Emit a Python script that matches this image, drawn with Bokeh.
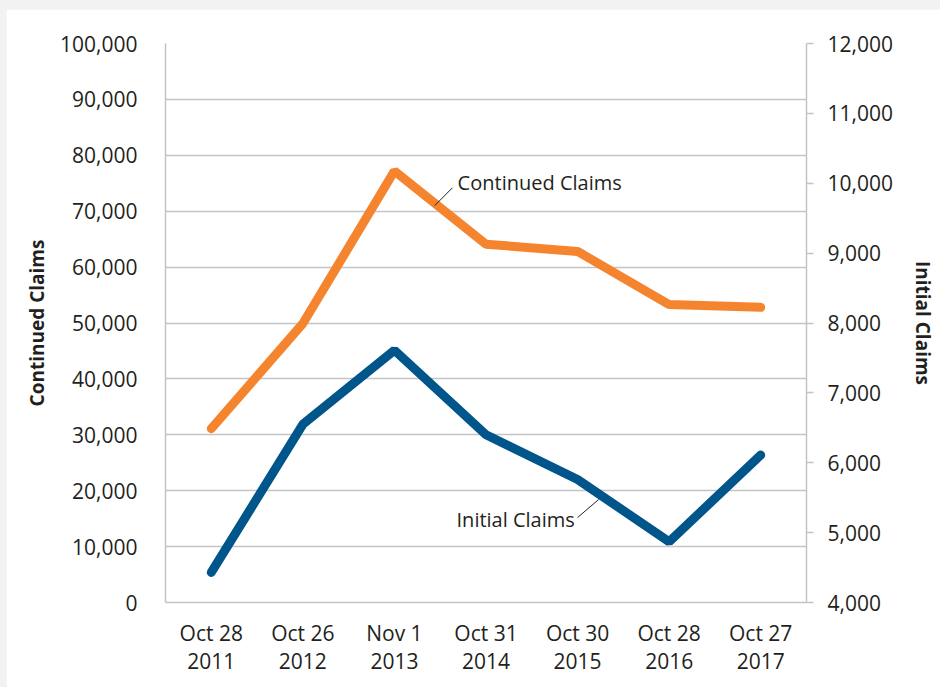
from bokeh.plotting import figure
from bokeh.models import Range1d, LinearAxis, FixedTicker, NumeralTickFormatter, Label
from bokeh.embed import file_html
from bokeh.resources import INLINE

# ---- data ----
dates = ["Oct 28\n2011", "Oct 26\n2012", "Nov 1\n2013", "Oct 31\n2014",
         "Oct 30\n2015", "Oct 28\n2016", "Oct 27\n2017"]
continued_claims = [31100, 49900, 77200, 64100, 62800, 53300, 52800]
initial_claims = [4430, 6550, 7610, 6400, 5760, 4870, 6110]
left_ticks = [0, 10000, 20000, 30000, 40000, 50000, 60000, 70000, 80000, 90000, 100000]
right_ticks = [4000, 5000, 6000, 7000, 8000, 9000, 10000, 11000, 12000]

FONT = "Open Sans"
TXT = "#231f20"
GRID = "#c4c4c4"
ORANGE = "#f5842e"
BLUE = "#00558a"
TICK_SIZE = "21px"

xs = [i + 0.5 for i in range(len(dates))]

p = figure(width=934, height=678, output_backend="svg", toolbar_location=None,
           x_range=Range1d(0, len(dates)), y_range=Range1d(0, 100000),
           min_border_left=159, min_border_right=134, min_border_top=34,
           min_border_bottom=85)
p.extra_y_ranges = {"right": Range1d(4000, 12000)}
p.outline_line_color = None
p.background_fill_color = "white"
p.border_fill_color = "white"

# x axis
xa = p.xaxis[0]
xa.ticker = FixedTicker(ticks=xs)
xa.major_label_overrides = {x: d for x, d in zip(xs, dates)}
xa.major_tick_line_color = None
xa.minor_tick_line_color = None
xa.axis_line_color = GRID
xa.axis_line_width = 1.5
xa.major_label_text_font = FONT
xa.major_label_text_font_size = TICK_SIZE
xa.major_label_text_color = TXT
xa.major_label_standoff = 10
xa.major_label_text_line_height = 1.0

# left axis
ya = p.yaxis[0]
ya.ticker = FixedTicker(ticks=left_ticks)
ya.formatter = NumeralTickFormatter(format="0,0")
ya.major_tick_line_color = None
ya.minor_tick_line_color = None
ya.axis_line_color = GRID
ya.axis_line_width = 1.5
ya.major_label_text_font = FONT
ya.major_label_text_font_size = TICK_SIZE
ya.major_label_text_color = TXT
ya.major_label_standoff = 22
ya.axis_label = "Continued Claims"
ya.axis_label_text_font = FONT
ya.axis_label_text_font_style = "bold"
ya.axis_label_text_font_size = "19px"
ya.axis_label_text_color = TXT
ya.axis_label_standoff = 7

# right axis
ra = LinearAxis(y_range_name="right", ticker=FixedTicker(ticks=right_ticks),
                formatter=NumeralTickFormatter(format="0,0"))
ra.major_tick_out = 7
ra.major_tick_in = 0
ra.major_tick_line_color = GRID
ra.major_tick_line_width = 1.5
ra.minor_tick_line_color = None
ra.axis_line_color = GRID
ra.axis_line_width = 1.5
ra.major_label_text_font = FONT
ra.major_label_text_font_size = TICK_SIZE
ra.major_label_text_color = TXT
ra.major_label_standoff = 14
ra.axis_label = "Initial Claims"
ra.axis_label_text_font = FONT
ra.axis_label_text_font_style = "bold"
ra.axis_label_text_font_size = "19px"
ra.axis_label_text_color = TXT
ra.axis_label_standoff = 14
p.add_layout(ra, "right")

p.xgrid.grid_line_color = None
p.ygrid.grid_line_color = GRID
p.ygrid.grid_line_width = 1.5

# series
p.line(xs, continued_claims, line_color=ORANGE, line_width=9, line_cap="round")
p.line(xs, initial_claims, line_color=BLUE, line_width=9, line_cap="round",
       y_range_name="right")

# annotations
p.add_layout(Label(x=3.19, y=75200, text="Continued Claims", text_font=FONT,
                   text_font_size="20px", text_color=TXT, text_baseline="middle"))
p.segment(x0=[3.134], y0=[74200], x1=[2.94], y1=[71000], line_color=TXT, line_width=1)
p.add_layout(Label(x=4.47, y=5190, y_range_name="right", text="Initial Claims",
                   text_font=FONT, text_font_size="20px", text_color=TXT,
                   text_baseline="middle", text_align="right"))
p.segment(x0=[4.50], y0=[5216], x1=[4.73], y1=[5474], line_color=TXT, line_width=1,
          y_range_name="right")

html = file_html(p, INLINE)
html = html.replace("</head>",
                    "<style>html, body { background-color: #f2f2f2 !important; }"
                    " body { padding: 9px 0 0 6px !important; overflow: hidden; }</style></head>", 1)
open("out.html", "w").write(html)
